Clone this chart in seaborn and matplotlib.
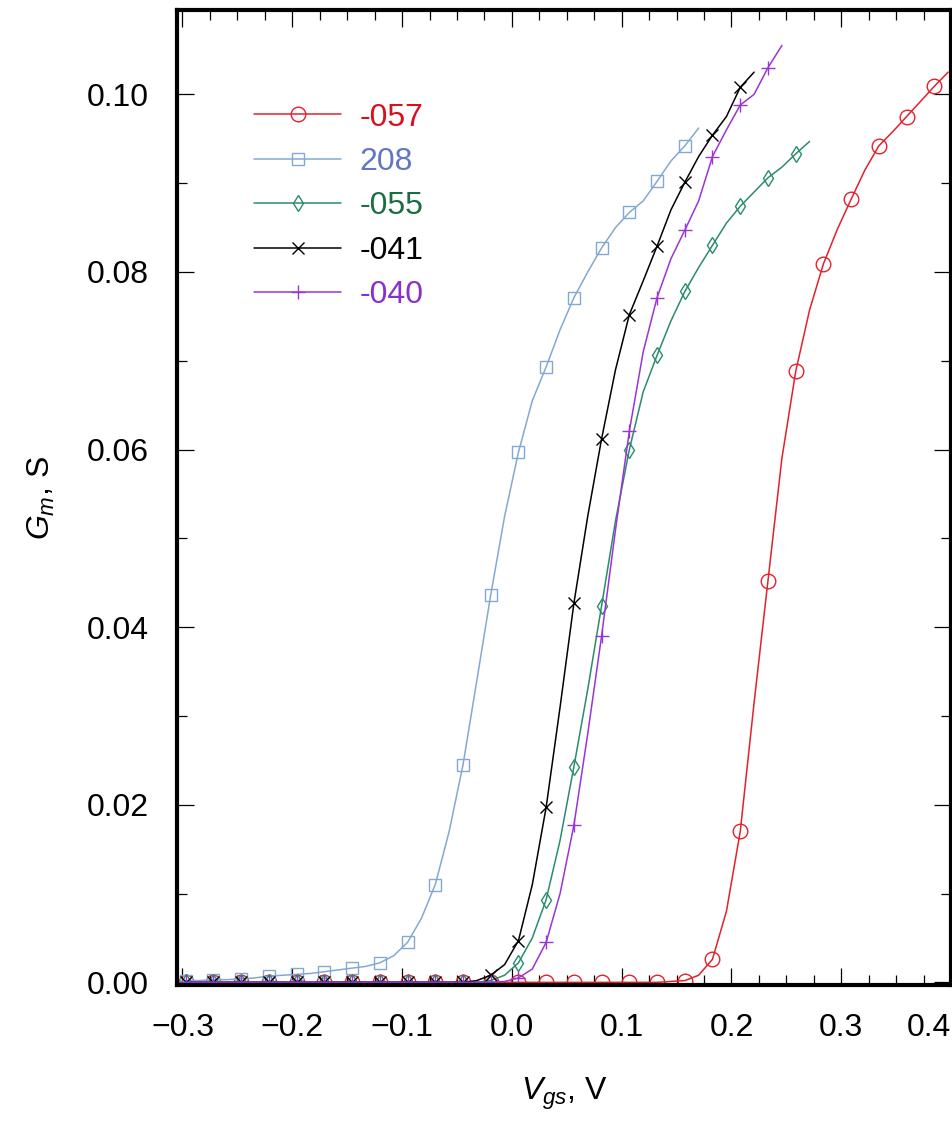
import numpy as np
import seaborn as sns
import matplotlib.pyplot as plt
from matplotlib.ticker import MultipleLocator, FuncFormatter

# gate voltage grid (every other point carries a marker)
vgs = [-0.2970, -0.2844, -0.2718, -0.2591, -0.2465, -0.2339, -0.2213, -0.2086,
       -0.1960, -0.1834, -0.1708, -0.1581, -0.1455, -0.1329, -0.1203, -0.1076,
       -0.0950, -0.0824, -0.0698, -0.0571, -0.0445, -0.0319, -0.0193, -0.0066,
       0.0060, 0.0186, 0.0312, 0.0439, 0.0565, 0.0691, 0.0817, 0.0944,
       0.1070, 0.1196, 0.1322, 0.1449, 0.1575, 0.1701, 0.1827, 0.1954,
       0.2080, 0.2206, 0.2332, 0.2459, 0.2585, 0.2711, 0.2837, 0.2964,
       0.3090, 0.3216, 0.3342, 0.3469, 0.3595, 0.3721, 0.3847, 0.3973]

gm_057 = [0.0] * 35 + [0.0001,
          0.0002, 0.0008, 0.0026, 0.0080, 0.0170, 0.0315, 0.0452, 0.0590,
          0.0688, 0.0757, 0.0809, 0.0848, 0.0882, 0.0915, 0.0942, 0.0958,
          0.0975, 0.0992, 0.1009, 0.1025]
gm_208 = [0.0002, 0.0002, 0.0003, 0.0003, 0.0004, 0.0005, 0.0007, 0.0008,
          0.0009, 0.0010, 0.0012, 0.0014, 0.0016, 0.0018, 0.0022, 0.0030,
          0.0045, 0.0072, 0.0110, 0.0170, 0.0245, 0.0340, 0.0436, 0.0525,
          0.0597, 0.0655, 0.0693, 0.0735, 0.0771, 0.0800, 0.0827, 0.0850,
          0.0867, 0.0880, 0.0902, 0.0925, 0.0942, 0.0962]
gm_055 = [0.0] * 22 + [0.0002, 0.0008, 0.0022, 0.0050, 0.0093, 0.0160,
          0.0243, 0.0330, 0.0424, 0.0520, 0.0600, 0.0665, 0.0706, 0.0745,
          0.0778, 0.0805, 0.0830, 0.0855, 0.0874, 0.0890, 0.0906, 0.0918,
          0.0933, 0.0947]
gm_041 = [0.0] * 21 + [0.0002, 0.0008, 0.0020, 0.0047, 0.0110, 0.0197, 0.0310,
          0.0427, 0.0525, 0.0612, 0.0690, 0.0752, 0.0790, 0.0829, 0.0870,
          0.0901, 0.0930, 0.0954, 0.0975, 0.1008, 0.1025]
gm_040 = [0.0] * 23 + [0.0001, 0.0005, 0.0015, 0.0045, 0.0100, 0.0177, 0.0280,
          0.0390, 0.0510, 0.0621, 0.0710, 0.0771, 0.0815, 0.0847, 0.0880,
          0.0930, 0.0960, 0.0988, 0.1000, 0.1030, 0.1055]

labels = ['-057', '208', '-055', '-041', '-040']
curves = [gm_057, gm_208, gm_055, gm_041, gm_040]
line_colors = ['#e4202c', '#84a8d4', '#2a8c6a', '#000000', '#9a34d6']
text_colors = ['#d8101c', '#6276c2', '#1b6e42', '#000000', '#8a2ed0']
markers = ['o', 's', 'd', 'x', '+']
msizes = [10.5, 9, 8, 9, 10]

sns.set_style('ticks')
plt.rcParams['font.family'] = ['Liberation Sans', 'DejaVu Sans']
plt.rcParams['mathtext.fontset'] = 'custom'
plt.rcParams['mathtext.it'] = 'Liberation Sans:italic'
plt.rcParams['mathtext.rm'] = 'Liberation Sans'
plt.rcParams['text.color'] = 'black'
plt.rcParams['axes.labelcolor'] = 'black'
plt.rcParams['xtick.color'] = 'black'
plt.rcParams['ytick.color'] = 'black'
plt.rcParams['axes.edgecolor'] = 'black'

fig = plt.figure(figsize=(9.53, 11.22), dpi=100)
ax = fig.add_axes([0.1857, 0.1221, 0.8123, 0.869])

for lab, gm, col, mk, ms in zip(labels, curves, line_colors, markers, msizes):
    sns.lineplot(x=vgs[:len(gm)], y=gm, ax=ax, color=col, lw=1.1, marker=mk,
                 markersize=ms, markevery=2, markerfacecolor='none',
                 markeredgecolor=col, markeredgewidth=1.0, label=lab,
                 sort=False, estimator=None)

ax.set_xlim(-0.305, 0.40)
ax.set_ylim(-0.0003, 0.1095)
ax.set_xticks([-0.3, -0.2, -0.1, 0.0, 0.1, 0.2, 0.3, 0.4])
ax.xaxis.set_minor_locator(MultipleLocator(0.025))
ax.yaxis.set_major_locator(MultipleLocator(0.02))
ax.yaxis.set_minor_locator(MultipleLocator(0.01))
ax.xaxis.set_major_formatter(FuncFormatter(lambda v, p: f'{v:.1f}'.replace('-', '\u2212')))
ax.yaxis.set_major_formatter(FuncFormatter(lambda v, p: f'{v:.2f}'))
ax.tick_params(which='both', direction='in', top=True, right=True, width=0.9)
ax.tick_params(which='major', length=12, labelsize=23)
ax.tick_params(axis='x', which='major', pad=20)
ax.tick_params(axis='y', which='major', pad=20)
ax.tick_params(which='minor', length=7)
for s in ax.spines.values():
    s.set_linewidth(3)
    s.set_color('black')

ax.set_xlabel(r'$V_{gs}$, V', fontsize=23, labelpad=24)
ax.set_ylabel(r'$G_m$, S', fontsize=23, labelpad=22)

leg = ax.legend(loc='upper left', bbox_to_anchor=(0.10, 0.905), frameon=False,
                fontsize=23, handlelength=2.7, handletextpad=0.6,
                labelspacing=0.45, borderpad=0, borderaxespad=0)
for t, c in zip(leg.get_texts(), text_colors):
    t.set_color(c)

fig.canvas.draw()
ax.get_xticklabels()[-1].set_ha('right')

fig.savefig('out.png', dpi=100)
